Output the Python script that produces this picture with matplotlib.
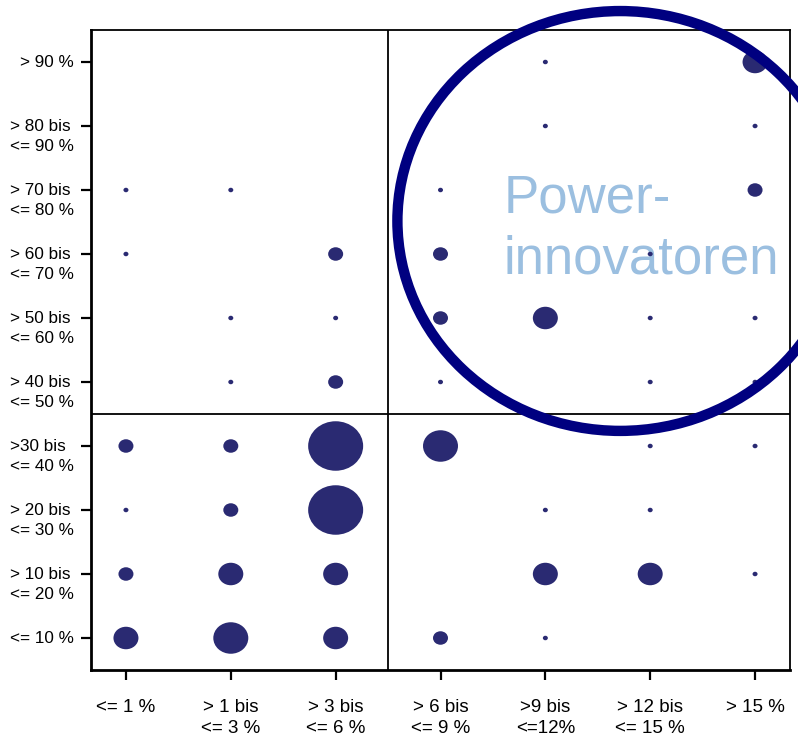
import matplotlib
matplotlib.use("Agg")
import matplotlib.pyplot as plt
import numpy as np
from matplotlib.collections import EllipseCollection
from matplotlib.patches import Ellipse
from matplotlib.transforms import blended_transform_factory, offset_copy

plt.rcParams['font.family'] = ['Liberation Sans', 'DejaVu Sans']

# x categories (share of revenue) and y categories (share of new products)
x_labels = ['<= 1 %', '> 1 bis\n<= 3 %', '> 3 bis\n<= 6 %', '> 6 bis\n<= 9 %',
            '>9 bis\n<=12%', '> 12 bis\n<= 15 %', '> 15 %']
y_labels = ['<= 10 %', '> 10 bis\n<= 20 %', '> 20 bis\n<= 30 %', '>30 bis\n<= 40 %',
            '> 40 bis\n<= 50 %', '> 50 bis\n<= 60 %', '> 60 bis\n<= 70 %',
            '> 70 bis\n<= 80 %', '> 80 bis\n<= 90 %', '> 90 %']

# bubble counts, rows from "<= 10 %" (bottom) up to "> 90 %" (top)
counts = np.array([
    [3, 4, 3, 2, 1, 0, 0],   # <= 10 %
    [2, 3, 3, 0, 3, 3, 1],   # > 10 bis <= 20 %
    [1, 2, 6, 0, 1, 1, 0],   # > 20 bis <= 30 %
    [2, 2, 6, 4, 0, 1, 1],   # > 30 bis <= 40 %
    [0, 1, 2, 1, 0, 1, 1],   # > 40 bis <= 50 %
    [0, 1, 1, 2, 3, 1, 1],   # > 50 bis <= 60 %
    [1, 0, 2, 2, 0, 1, 0],   # > 60 bis <= 70 %
    [1, 1, 0, 1, 0, 0, 2],   # > 70 bis <= 80 %
    [0, 0, 0, 0, 1, 0, 1],   # > 80 bis <= 90 %
    [0, 0, 0, 0, 1, 0, 3],   # > 90 %
])

label = 'Power-\ninnovatoren'

fig = plt.figure(figsize=(7.98, 7.43), dpi=100)
ax = fig.add_axes([91/798, 73/743, 699/798, 640/743])

# bubbles
rows, cols = np.nonzero(counts)
n = counts[rows, cols]
widths = 10.0 * n - 5.0
heights = widths * 0.9
ec = EllipseCollection(widths, heights, np.zeros_like(widths), units='dots',
                       offsets=np.column_stack([cols, rows]),
                       offset_transform=ax.transData,
                       facecolors='#2a2a72', edgecolors='none', zorder=3)
ax.add_collection(ec)

# quadrant lines
ax.axvline(2.5, color='black', lw=1.3, zorder=2)
ax.axhline(3.5, color='black', lw=1.3, zorder=2)

ax.set_xlim(-1/3, 6 + 1/3)
ax.set_ylim(-0.5, 9.5)

ax.set_xticks(range(len(x_labels)))
ax.set_xticklabels(x_labels, fontsize=13.5, linespacing=1.3)
ax.set_yticks(range(len(y_labels)))
ax.set_yticklabels([])
ax.tick_params(axis='both', length=7, width=1.6, color='black')
ax.tick_params(axis='x', pad=14)

# y labels: first line level with the tick, second line below
ytrans = offset_copy(blended_transform_factory(ax.transAxes, ax.transData),
                     fig=fig, x=-12.5, y=4.7, units='points')
for i, lab in enumerate(y_labels):
    ax.text(0, i, lab, transform=ytrans, ha='right', va='top',
            multialignment='left', fontsize=12.3, linespacing=1.4)

for side in ['left', 'bottom']:
    ax.spines[side].set_linewidth(2.0)
for side in ['top', 'right']:
    ax.spines[side].set_linewidth(1.3)

# highlight ring and label
ring = Ellipse((4.714, 6.516), 4.25, 6.56, fill=False, edgecolor='#000080',
               lw=7.5, clip_on=False, zorder=5)
ax.add_patch(ring)
ax.text(3.6, 5.6875, label, fontsize=38, color='#9bbfe0', ha='left', va='baseline',
        linespacing=1.3, zorder=2.5)

fig.savefig('out.png', dpi=100)
